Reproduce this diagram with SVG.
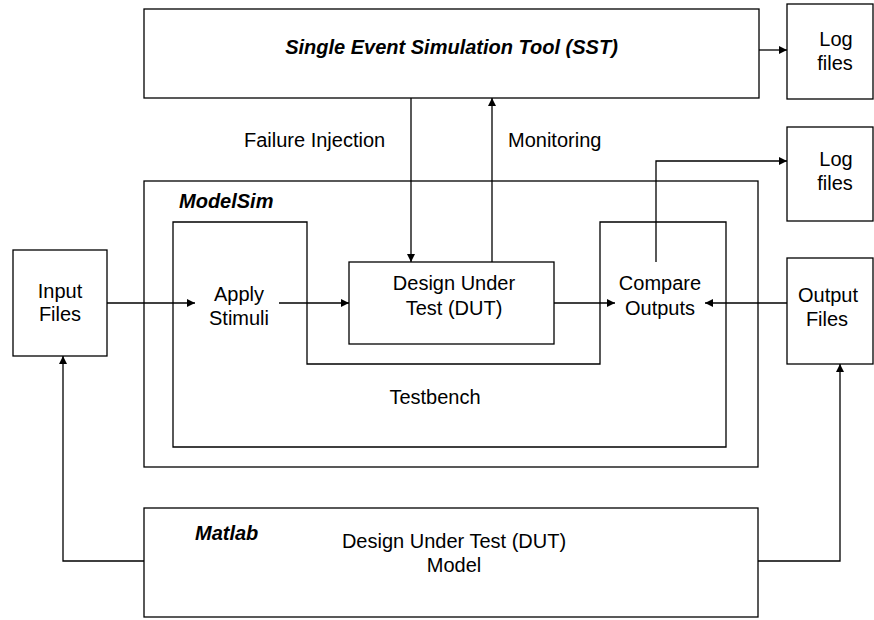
<svg xmlns="http://www.w3.org/2000/svg" width="874" height="620" viewBox="0 0 874 620">
<style>
  .box{fill:#ffffff;stroke:#000000;stroke-width:1.3}
  .ln{fill:none;stroke:#000000;stroke-width:1.3}
  .t{font-family:"Liberation Sans",Arial,sans-serif;font-size:20px;fill:#000000}
  .c{text-anchor:middle}
  .bi{font-weight:bold;font-style:italic}
</style>
<defs>
  <marker id="arr" markerUnits="userSpaceOnUse" markerWidth="9" markerHeight="9" refX="8" refY="4" orient="auto">
    <path d="M0,0 L8,4 L0,8 Z" fill="#000000"/>
  </marker>
</defs>
<rect width="874" height="620" fill="#ffffff"/>

<g id="modelsim">
  <rect class="box" x="144" y="181" width="614" height="286"/>
  <text class="t bi" x="179" y="208">ModelSim</text>
</g>
<g id="testbench">
  <path class="ln" d="M173,222 H307 V364 H600 V222 H726 V447 H173 Z"/>
  <text class="t c" x="435" y="404">Testbench</text>
</g>
<g id="sst">
  <rect class="box" x="144" y="9" width="615" height="89"/>
  <text class="t c bi" x="451.5" y="54">Single Event Simulation Tool (SST)</text>
</g>
<g id="log1">
  <rect class="box" x="787" y="4" width="86" height="95"/>
  <text class="t c" x="836" y="46">Log</text>
  <text class="t c" x="835" y="70">files</text>
</g>
<g id="log2">
  <rect class="box" x="787" y="127" width="86" height="94"/>
  <text class="t c" x="836" y="166">Log</text>
  <text class="t c" x="835" y="190">files</text>
</g>
<g id="input">
  <rect class="box" x="13" y="250" width="94" height="106"/>
  <text class="t c" x="60" y="298">Input</text>
  <text class="t c" x="60" y="321">Files</text>
</g>
<g id="apply">
  <text class="t c" x="239" y="301">Apply</text>
  <text class="t c" x="239" y="325">Stimuli</text>
</g>
<g id="dut">
  <rect class="box" x="349" y="262" width="205" height="82"/>
  <text class="t c" x="454" y="290">Design Under</text>
  <text class="t c" x="454" y="315">Test (DUT)</text>
</g>
<g id="compare">
  <text class="t c" x="660" y="290">Compare</text>
  <text class="t c" x="660" y="315">Outputs</text>
</g>
<g id="output">
  <rect class="box" x="787" y="258" width="86" height="106"/>
  <text class="t c" x="828" y="302">Output</text>
  <text class="t c" x="827" y="326">Files</text>
</g>
<g id="matlab">
  <rect class="box" x="144" y="508" width="614" height="109"/>
  <text class="t bi" x="195" y="540">Matlab</text>
  <text class="t c" x="454" y="548">Design Under Test (DUT)</text>
  <text class="t c" x="454" y="572">Model</text>
</g>

<g id="connectors">
  <line class="ln" x1="759" y1="50" x2="787" y2="50" marker-end="url(#arr)"/>
  <line class="ln" x1="411" y1="98" x2="411" y2="262" marker-end="url(#arr)"/>
  <line class="ln" x1="492" y1="262" x2="492" y2="98" marker-end="url(#arr)"/>
  <text class="t" x="244" y="147">Failure Injection</text>
  <text class="t" x="508" y="147">Monitoring</text>
  <polyline class="ln" points="656,262 656,161 787,161" marker-end="url(#arr)"/>
  <line class="ln" x1="107" y1="303" x2="195" y2="303" marker-end="url(#arr)"/>
  <line class="ln" x1="279" y1="303" x2="349" y2="303" marker-end="url(#arr)"/>
  <line class="ln" x1="554" y1="303" x2="615" y2="303" marker-end="url(#arr)"/>
  <line class="ln" x1="787" y1="303" x2="705" y2="303" marker-end="url(#arr)"/>
  <polyline class="ln" points="144,561 63,561 63,356" marker-end="url(#arr)"/>
  <polyline class="ln" points="758,561 840,561 840,364" marker-end="url(#arr)"/>
</g>
</svg>
